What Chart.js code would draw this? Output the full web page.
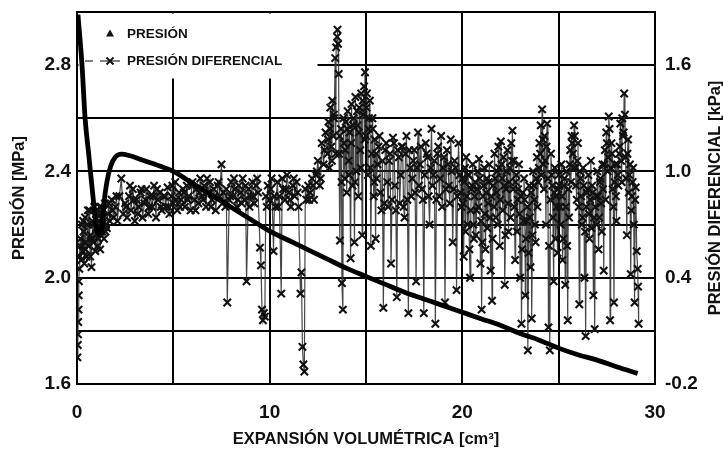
<!DOCTYPE html>
<html>
<head>
<meta charset="utf-8">
<script src="https://cdn.jsdelivr.net/npm/chart.js@4.4.0/dist/chart.umd.min.js"></script>
<style>
  html, body { margin: 0; padding: 0; background: #fff; }
  #wrap { width: 723px; height: 449px; }
</style>
</head>
<body>
<div id="wrap"><canvas id="c" width="723" height="449"></canvas></div>
<script>
// Presión en la celda [MPa] frente a la expansión volumétrica [cm³]
const presVolume = [0.05, 0.26, 0.42, 0.6, 0.88, 1.05, 1.2, 1.3, 1.4, 1.55,
  1.75, 2.0, 2.3, 2.7, 3.5, 4.3, 5, 6, 7, 8,
  9, 10, 11, 12, 13, 14, 15, 16, 17, 18,
  19, 20, 21, 22, 23, 24, 25, 26, 27, 28, 29.1];
const presMPa = [2.99, 2.8, 2.6, 2.47, 2.27, 2.17, 2.16, 2.2, 2.28, 2.36,
  2.42, 2.455, 2.465, 2.46, 2.44, 2.42, 2.40, 2.355, 2.31, 2.265,
  2.22, 2.175, 2.14, 2.105, 2.07, 2.035, 2.005, 1.975, 1.945, 1.92,
  1.895, 1.87, 1.845, 1.82, 1.79, 1.765, 1.735, 1.71, 1.69, 1.665, 1.64];

// Presión diferencial [kPa]: lecturas principales
const diffVolume = [
  0.02, 0.04, 0.05, 0.06, 0.08, 0.09, 0.10, 0.12, 0.13, 0.15,
  0.18, 0.22, 0.26, 0.30, 0.34, 0.38, 0.42, 0.46, 0.50, 0.55,
  0.60, 0.65, 0.70, 0.75, 0.80, 0.85, 0.90, 0.95, 1.00, 1.05,
  1.10, 1.15, 1.20, 1.25, 1.30, 1.35, 1.40, 1.45, 1.50, 1.55,
  1.60, 1.70, 1.80, 1.90, 2.00, 2.10, 2.20, 2.30, 2.40, 2.50,
  2.6, 2.7, 2.8, 2.9, 3.0, 3.1, 3.2, 3.3, 3.4, 3.5,
  3.6, 3.7, 3.8, 3.9, 4.0, 4.1, 4.2, 4.3, 4.4, 4.5,
  4.6, 4.7, 4.8, 4.9, 5.0, 5.1, 5.2, 5.3, 5.4, 5.5,
  5.6, 5.7, 5.8, 5.9, 6.0, 6.1, 6.2, 6.3, 6.4, 6.5,
  6.6, 6.7, 6.8, 6.9, 7.0, 7.1, 7.2, 7.3, 7.4, 7.5,
  7.6, 7.7, 7.8, 7.9, 8.0, 8.1, 8.2, 8.3, 8.4, 8.5,
  8.6, 8.7, 8.8, 8.9, 9.0, 9.1, 9.2, 9.3, 9.4, 9.5,
  9.55, 9.6, 9.65, 9.7, 9.75, 9.8, 9.9, 10.0, 10.1, 10.2,
  10.3, 10.4, 10.5, 10.6, 10.7, 10.8, 10.9, 11.0, 11.1, 11.2,
  11.3, 11.4, 11.5, 11.6, 11.65, 11.7, 11.75, 11.8, 11.9, 12.0,
  12.1, 12.2, 12.3, 12.4, 12.5, 12.6, 12.7, 12.8, 12.9, 13.0,
  13.05, 13.1, 13.15, 13.2, 13.25, 13.3, 13.35, 13.4, 13.45, 13.5,
  13.52, 13.55, 13.58, 13.6, 13.65, 13.7, 13.75, 13.8, 13.85, 13.9,
  13.95, 14.0, 14.05, 14.1, 14.15, 14.2, 14.25, 14.3, 14.35, 14.4,
  14.45, 14.5, 14.55, 14.6, 14.65, 14.7, 14.75, 14.8, 14.85, 14.9,
  14.95, 15.0, 15.05, 15.1, 15.15, 15.2, 15.25, 15.3, 15.35, 15.4,
  15.45, 15.5, 15.6, 15.7, 15.8, 15.9, 16.0, 16.1, 16.2, 16.3,
  16.4, 16.5, 16.6, 16.7, 16.8, 16.9, 17.0, 17.1, 17.2, 17.3,
  17.4, 17.5, 17.6, 17.7, 17.8, 17.9, 18.0, 18.1, 18.2, 18.3,
  18.4, 18.5, 18.6, 18.7, 18.8, 18.9, 19.0, 19.1, 19.2, 19.3,
  19.4, 19.5, 19.6, 19.7, 19.8, 19.9,
  20.0, 20.07, 20.14, 20.2, 20.27, 20.34, 20.4, 20.47, 20.54, 20.6,
  20.67, 20.74, 20.8, 20.87, 20.94, 21.0, 21.07, 21.14, 21.2, 21.27,
  21.34, 21.4, 21.47, 21.54, 21.6, 21.67, 21.74, 21.8, 21.87, 21.94,
  22.0, 22.07, 22.14, 22.2, 22.27, 22.34, 22.4, 22.47, 22.54, 22.6,
  22.67, 22.74, 22.8, 22.87, 22.94, 23.0, 23.07, 23.14, 23.2, 23.27,
  23.34, 23.4, 23.47, 23.54, 23.6, 23.67, 23.74, 23.8, 23.87, 23.94,
  24.0, 24.07, 24.14, 24.2, 24.27, 24.34, 24.4, 24.47, 24.54, 24.6,
  24.67, 24.74, 24.8, 24.87, 24.94, 25.0,
  25.07, 25.14, 25.2, 25.27, 25.34, 25.4, 25.47, 25.54, 25.6, 25.67,
  25.74, 25.8, 25.87, 25.94, 26.0, 26.07, 26.14, 26.2, 26.27, 26.34,
  26.4, 26.47, 26.54, 26.6, 26.67, 26.74, 26.8, 26.87, 26.94, 27.0,
  27.07, 27.14, 27.2, 27.27, 27.34, 27.4, 27.47, 27.54, 27.6, 27.67,
  27.74, 27.8, 27.87, 27.94, 28.0, 28.07, 28.14, 28.2, 28.27, 28.34,
  28.4, 28.47, 28.54, 28.6, 28.67, 28.74, 28.8, 28.87, 28.94, 29.0,
  29.05, 29.1, 29.12, 29.15
];
const diffKPa = [
  -0.05, 0.02, 0.08, 0.15, 0.22, 0.30, 0.38, 0.45, 0.52, 0.58,
  0.62, 0.50, 0.70, 0.55, 0.66, 0.48, 0.74, 0.60, 0.52, 0.70,
  0.58, 0.78, 0.64, 0.46, 0.72, 0.60, 0.80, 0.55, 0.68, 0.76,
  0.62, 0.72, 0.56, 0.80, 0.66, 0.74, 0.62, 0.82, 0.70, 0.68,
  0.76, 0.72, 0.84, 0.74, 0.80, 0.72, 0.86, 0.96, 0.76, 0.82,
  0.74, 0.86, 0.78, 0.90, 0.72, 0.84, 0.80, 0.88, 0.74, 0.82,
  0.90, 0.76, 0.86, 0.80, 0.92, 0.74, 0.84, 0.88, 0.78, 0.86,
  0.80, 0.91, 0.76, 0.86, 0.82, 0.94, 0.78, 0.88, 0.84, 0.90,
  0.80, 0.92, 0.86, 0.78, 0.94, 0.84, 0.90, 0.82, 0.96, 0.86,
  0.92, 0.80, 0.88, 0.94, 0.84, 0.90, 0.78, 0.92, 0.86, 1.04,
  0.88, 0.80, 0.26, 0.84, 0.94, 0.86, 0.90, 0.80, 0.92, 0.88,
  0.96, 0.84, 0.38, 0.90, 0.86, 0.94, 0.82, 0.92, 0.88, 0.57,
  0.47, 0.22, 0.16, 0.20, 0.18, 0.86, 0.92, 0.84, 0.96, 0.55,
  0.80, 0.94, 0.86, 0.31, 0.90, 0.84, 0.98, 0.88, 0.80, 0.92,
  0.86, 0.94, 0.80, 0.31, 0.43, 0.01, -0.09, -0.13, 0.84, 0.92,
  0.88, 0.96, 0.84, 0.98, 1.06, 0.92, 1.16, 1.04, 1.22, 1.10,
  1.28, 1.02, 1.36, 1.14, 1.40, 1.20, 1.30, 1.64, 1.70, 1.76,
  1.80, 1.72, 1.55, 1.10, 0.61, 1.24, 0.37, 0.22, 1.16, 0.96,
  1.28, 0.88, 1.34, 1.06, 1.22, 0.51, 1.38, 0.92, 1.30, 0.60,
  1.42, 1.00, 1.26, 0.86, 1.36, 1.12, 1.44, 0.64, 1.32, 1.48,
  1.56, 1.20, 1.44, 0.98, 1.30, 1.40, 0.58, 1.10, 1.24, 0.86,
  1.18, 0.62, 1.04, 1.20, 0.78, 0.23, 1.12, 0.94, 1.06, 0.48,
  1.19, 0.92, 0.29, 1.08, 0.98, 1.14, 0.74, 1.20, 0.20, 1.02,
  0.96, 1.12, 0.38, 1.22, 1.04, 0.90, 0.20, 1.16, 1.08, 0.70,
  1.24, 0.98, 0.14, 1.10, 0.86, 1.20, 1.02, 0.26, 1.12, 0.92,
  1.18, 0.60, 1.06, 0.33, 1.16, 0.88,
  0.96, 0.52, 1.02, 1.08, 0.70, 0.98, 0.40, 0.90, 1.04, 0.62,
  0.94, 0.78, 1.00, 1.07, 0.48, 0.22, 0.86, 1.02, 0.56, 0.96,
  0.82, 1.04, 0.44, 0.27, 0.92, 1.10, 0.74, 1.00, 1.14, 0.58,
  1.17, 0.96, 1.08, 0.36, 0.90, 1.12, 0.66, 1.02, 1.16, 1.23,
  1.06, 0.50, 0.98, 0.84, 1.04, 0.40, 0.14, 0.88, 0.96, 0.30,
  0.72, -0.01, 0.92, 0.46, 0.17, 1.00, 0.84, 0.60, 1.08, 0.94,
  1.16, 1.26, 1.35, 1.04, 1.20, 0.70, 1.27, 0.12, -0.01, 1.10,
  0.92, 0.38, 1.02, 0.86, 0.54, 0.98,
  0.80, 1.04, 0.50, 0.92, 0.36, 1.00, 0.16, 0.74, 1.12, 1.20,
  1.10, 1.26, 1.02, 0.84, 1.16, 0.25, 0.96, 0.70, 1.02, 0.40,
  0.07, 0.88, 0.98, 0.62, 1.06, 0.92, 0.30, 0.11, 0.86, 1.00,
  0.56, 0.94, 0.82, 1.04, 0.44, 1.12, 1.22, 1.00, 1.31, 0.16,
  1.16, 0.90, 0.26, 1.04, 0.72, 0.98, 1.10, 1.27, 0.94, 1.20,
  1.44, 1.08, 0.64, 1.18, 0.98, 0.42, 0.86, 1.02, 0.26, 0.91,
  0.55, 0.45, 0.35, 0.14
];

// Presión diferencial [kPa]: lecturas intermedias de la banda densa
const diffVolumeDense = [
  0.32, 0.44, 0.57, 0.68, 0.78, 0.88, 0.98, 1.08, 1.18, 1.28,
  1.38, 1.48, 1.65, 1.85, 2.05,
  2.55, 2.75, 2.95, 3.15, 3.35, 3.55, 3.75, 3.95, 4.15, 4.35,
  4.55, 4.75, 4.95, 5.15, 5.35, 5.55, 5.75, 5.95, 6.15, 6.35,
  6.55, 6.75, 6.95, 7.15, 7.35, 7.55, 7.75, 7.95, 8.15, 8.35,
  8.55, 8.75, 8.95, 9.15, 9.35, 9.85, 10.05, 10.25, 10.45, 10.65,
  10.85, 11.05, 11.25, 11.45, 11.85, 12.05, 12.25, 12.45, 12.65, 12.85,
  13.03, 13.13, 13.23, 13.33, 13.43, 13.63, 13.73, 13.83, 13.93, 14.03,
  14.13, 14.23, 14.33, 14.43, 14.53, 14.63, 14.73, 14.83, 14.93, 15.03,
  15.13, 15.23, 15.33, 15.43, 15.53,
  15.55, 15.65, 15.75, 15.85, 15.95, 16.05, 16.15, 16.25, 16.35, 16.45,
  16.55, 16.65, 16.75, 16.85, 16.95, 17.05, 17.15, 17.25, 17.35, 17.45,
  17.55, 17.65, 17.75, 17.85, 17.95, 18.05, 18.15, 18.25, 18.35, 18.45,
  18.55, 18.65, 18.75, 18.85, 18.95, 19.05, 19.15, 19.25, 19.35, 19.45,
  19.55, 19.65, 19.75, 19.85, 19.95,
  20.03, 20.1, 20.17, 20.24, 20.3, 20.37, 20.44, 20.5, 20.57, 20.64,
  20.7, 20.77, 20.84, 20.9, 20.97, 21.04, 21.1, 21.17, 21.24, 21.3,
  21.37, 21.44, 21.5, 21.57, 21.64, 21.7, 21.77, 21.84, 21.9, 21.97,
  22.04, 22.1, 22.17, 22.24, 22.3, 22.37, 22.44, 22.5, 22.57, 22.64,
  22.7, 22.77, 22.84, 22.9, 22.97, 23.04, 23.1, 23.17, 23.24, 23.3,
  23.37, 23.44, 23.5, 23.57, 23.64, 23.7, 23.77, 23.84, 23.9, 23.97,
  24.04, 24.1, 24.17, 24.24, 24.3, 24.37, 24.44, 24.5, 24.57, 24.64,
  24.7, 24.77, 24.84, 24.9, 24.97,
  25.03, 25.1, 25.17, 25.24, 25.3, 25.37, 25.44, 25.5, 25.57, 25.64,
  25.7, 25.77, 25.84, 25.9, 25.97, 26.04, 26.1, 26.17, 26.24, 26.3,
  26.37, 26.44, 26.5, 26.57, 26.64, 26.7, 26.77, 26.84, 26.9, 26.97,
  27.04, 27.1, 27.17, 27.24, 27.3, 27.37, 27.44, 27.5, 27.57, 27.64,
  27.7, 27.77, 27.84, 27.9, 27.97, 28.04, 28.1, 28.17, 28.24, 28.3,
  28.37, 28.44, 28.5, 28.57, 28.64, 28.7, 28.77, 28.84, 28.9, 28.97
];
const diffKPaDense = [
  0.72, 0.56, 0.78, 0.52, 0.62, 0.70, 0.76, 0.58, 0.80, 0.70,
  0.78, 0.66, 0.82, 0.78, 0.86,
  0.80, 0.92, 0.84, 0.76, 0.90, 0.84, 0.80, 0.86, 0.90, 0.80,
  0.86, 0.80, 0.92, 0.84, 0.80, 0.88, 0.84, 0.92, 0.78, 0.88,
  0.84, 0.96, 0.80, 0.86, 0.94, 0.82, 0.90, 0.86, 0.96, 0.84,
  0.82, 0.92, 0.80, 0.86, 0.96, 0.80, 0.90, 0.86, 0.80, 0.96,
  0.90, 0.84, 0.96, 0.88, 0.90, 0.84, 0.92, 1.00, 0.96, 1.12,
  1.18, 1.24, 1.06, 1.32, 1.10, 1.20, 0.94, 1.30, 1.12, 1.24,
  0.98, 1.16, 1.26, 0.94, 1.34, 1.22, 1.02, 1.40, 1.18, 1.36,
  1.24, 1.02, 1.30, 0.94, 1.10,
  0.96, 1.14, 0.88, 1.06, 0.82, 1.16, 0.80, 1.10, 0.84, 1.16,
  0.78, 1.12, 0.82, 1.14, 0.80, 1.10, 0.84, 1.12, 0.86, 1.06,
  0.88, 1.02, 0.92, 1.14, 0.84, 0.98, 1.10, 0.86, 1.02, 0.92,
  1.06, 0.84, 1.14, 0.96, 0.80, 1.08, 0.90, 1.04, 0.82, 1.00,
  0.90, 1.02, 0.86, 0.98, 0.80,
  0.82, 0.94, 0.66, 0.86, 0.98, 0.56, 0.78, 0.92, 0.70, 0.86,
  0.64, 0.90, 0.80, 0.96, 0.72, 0.60, 0.92, 0.76, 0.88, 0.68,
  0.94, 0.74, 0.86, 0.62, 0.80, 0.96, 0.88, 0.70, 1.02, 0.84,
  1.04, 0.78, 0.92, 0.64, 1.00, 0.82, 0.94, 0.74, 1.06, 0.90,
  0.80, 0.94, 0.66, 0.90, 0.76, 0.86, 0.56, 0.72, 0.84, 0.62,
  0.80, 0.54, 0.74, 0.88, 0.64, 0.92, 0.70, 0.96, 0.80, 1.02,
  1.10, 0.98, 1.18, 0.90, 1.06, 1.14, 0.96, 0.58, 0.84, 0.98,
  0.74, 0.88, 0.62, 0.80, 0.90,
  0.92, 0.70, 0.86, 0.62, 0.96, 0.80, 0.58, 0.90, 1.04, 0.94,
  1.16, 1.02, 1.20, 0.92, 1.06, 0.80, 1.00, 0.86, 0.74, 0.92,
  0.66, 0.80, 0.90, 0.76, 0.84, 0.68, 0.88, 0.74, 0.80, 0.70,
  0.86, 0.74, 0.96, 0.66, 0.90, 1.04, 0.84, 1.16, 1.08, 1.24,
  1.02, 1.10, 0.80, 0.94, 0.86, 1.04, 0.92, 1.14, 1.06, 1.30,
  1.22, 1.32, 0.96, 1.10, 0.88, 1.04, 0.78, 0.94, 0.70, 0.84
];

// Marcas de los ejes
const xLabelTicks = [0, 10, 20, 30];
const leftLabelTicks = [1.6, 2.0, 2.4, 2.8];
const rightTicks = [-0.2, 0.4, 1.0, 1.6];

const FONT = '"Liberation Sans", Arial, Helvetica, sans-serif';
const INK = '#111';

// Serie diferencial completa, ordenada por volumen
const diffPoints = diffVolume.map((v, i) => ({ x: v, y: diffKPa[i] }))
  .concat(diffVolumeDense.map((v, i) => ({ x: v, y: diffKPaDense[i] })))
  .sort((a, b) => a.x - b.x);

// Leyenda dentro del área de trazado, sobre un recuadro blanco,
// y título del eje derecho leído de abajo hacia arriba
const insetLegend = {
  id: 'insetLegend',
  beforeDatasetsDraw(chart) {
    const { ctx, chartArea: a } = chart;
    ctx.save();
    ctx.fillStyle = '#fff';
    ctx.fillRect(a.left + 1.5, a.top + 1.5, 316 - a.left, 77 - a.top);

    ctx.fillStyle = INK;
    ctx.font = 'bold 13.5px ' + FONT;
    ctx.textBaseline = 'middle';
    ctx.textAlign = 'left';

    // triángulo de PRESIÓN
    ctx.beginPath();
    ctx.moveTo(110, 29.5);
    ctx.lineTo(114, 36.5);
    ctx.lineTo(106, 36.5);
    ctx.closePath();
    ctx.fill();
    ctx.fillText('PRESIÓN', 127, 34);

    // muestra de PRESIÓN DIFERENCIAL
    ctx.strokeStyle = '#555';
    ctx.lineWidth = 1.3;
    ctx.beginPath();
    ctx.moveTo(85, 61); ctx.lineTo(93, 61);
    ctx.moveTo(100, 61); ctx.lineTo(120, 61);
    ctx.stroke();
    ctx.strokeStyle = INK;
    ctx.lineWidth = 1.8;
    ctx.beginPath();
    ctx.moveTo(106.5, 57.5); ctx.lineTo(113.5, 64.5);
    ctx.moveTo(113.5, 57.5); ctx.lineTo(106.5, 64.5);
    ctx.stroke();
    ctx.fillText('PRESIÓN DIFERENCIAL', 127, 61);
    ctx.restore();
  },
  afterDraw(chart) {
    const { ctx, chartArea: a } = chart;
    ctx.save();
    ctx.translate(715, (a.top + a.bottom) / 2);
    ctx.rotate(-Math.PI / 2);
    ctx.fillStyle = INK;
    ctx.font = 'bold 16.5px ' + FONT;
    ctx.textAlign = 'center';
    ctx.textBaseline = 'middle';
    ctx.fillText('PRESIÓN DIFERENCIAL [kPa]', 0, 0);
    ctx.restore();
  }
};

const tickFont = { family: FONT, size: 19, weight: 'bold' };
const titleFont = { family: FONT, size: 16.5, weight: 'bold', lineHeight: 1 };

// Los ejes verticales no reservan margen extra para media etiqueta
const fixWidth = w => s => {
  s.width = w;
  s.paddingTop = 0;
  s.paddingBottom = 0;
};

new Chart(document.getElementById('c'), {
  type: 'scatter',
  data: {
    datasets: [
      {
        label: 'PRESIÓN',
        data: presVolume.map((v, i) => ({ x: v, y: presMPa[i] })),
        yAxisID: 'y',
        showLine: true,
        borderColor: '#000',
        borderWidth: 4.8,
        pointRadius: 0,
        cubicInterpolationMode: 'monotone',
        order: 0
      },
      {
        label: 'PRESIÓN DIFERENCIAL',
        data: diffPoints,
        yAxisID: 'y2',
        showLine: true,
        borderColor: 'rgba(50,50,50,0.9)',
        borderWidth: 1.2,
        pointStyle: 'crossRot',
        pointRadius: 5.2,
        pointBorderWidth: 2.1,
        pointBorderColor: INK,
        pointBackgroundColor: INK,
        order: 1
      }
    ]
  },
  options: {
    responsive: false,
    animation: false,
    layout: { padding: { top: 12, left: 0, right: 0, bottom: 0 } },
    plugins: {
      legend: { display: false },
      tooltip: { enabled: false }
    },
    scales: {
      x: {
        type: 'linear',
        position: 'bottom',
        min: 0,
        max: 30,
        afterFit: s => { s.height = 65; s.paddingLeft = 0; s.paddingRight = 0; },
        grid: { color: '#000', lineWidth: 2, drawTicks: false },
        border: { color: '#000', width: 2 },
        ticks: {
          stepSize: 5,
          autoSkip: false,
          maxRotation: 0,
          padding: 17,
          color: INK,
          font: tickFont,
          callback: v => (xLabelTicks.includes(v) ? String(v) : '')
        },
        title: {
          display: true,
          text: 'EXPANSIÓN VOLUMÉTRICA [cm³]',
          color: INK,
          font: titleFont,
          padding: { top: 0, bottom: 1 }
        }
      },
      y: {
        type: 'linear',
        position: 'left',
        min: 1.6,
        max: 3.0,
        afterFit: fixWidth(77),
        grid: { color: '#000', lineWidth: 2, drawTicks: false },
        border: { color: '#000', width: 2 },
        ticks: {
          stepSize: 0.2,
          autoSkip: false,
          padding: 6,
          color: INK,
          font: tickFont,
          callback: v => {
            const hit = leftLabelTicks.some(t => Math.abs(t - v) < 1e-6);
            return hit ? v.toFixed(1) : '';
          }
        },
        title: {
          display: true,
          text: 'PRESIÓN [MPa]',
          color: INK,
          font: titleFont,
          padding: { top: 11, bottom: 0 }
        }
      },
      y2: {
        type: 'linear',
        position: 'right',
        min: -0.2,
        max: 1.9,
        afterFit: fixWidth(68),
        afterBuildTicks: s => { s.ticks = rightTicks.map(v => ({ value: v })); },
        grid: { display: false, drawTicks: false },
        border: { color: '#000', width: 2 },
        ticks: {
          autoSkip: false,
          padding: 10,
          color: INK,
          font: tickFont,
          callback: v => v.toFixed(1)
        }
      }
    }
  },
  plugins: [insetLegend]
});
</script>
</body>
</html>
